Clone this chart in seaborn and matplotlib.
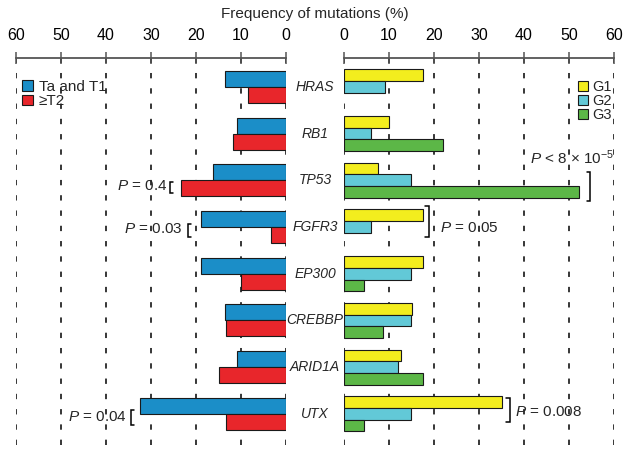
import matplotlib
matplotlib.use("Agg")
import matplotlib.pyplot as plt
import matplotlib.transforms as mtransforms
from matplotlib.patches import Patch
import seaborn as sns
import pandas as pd

# data (% of tumours with mutation)
genes = ["HRAS", "RB1", "TP53", "FGFR3", "EP300", "CREBBP", "ARID1A", "UTX"]

stage_labels = ["Ta and T1", "\u2265T2"]
ta_t1 = [13.5, 10.8, 16.3, 19.0, 19.0, 13.5, 10.8, 32.4]
t2_up = [8.4, 11.7, 23.4, 3.4, 10.1, 13.3, 15.0, 13.3]

grade_labels = ["G1", "G2", "G3"]
g1 = [17.6, 10.1, 7.6, 17.6, 17.6, 15.1, 12.6, 35.1]
g2 = [9.0, 5.9, 14.8, 5.9, 14.8, 14.8, 11.9, 14.8]
g3 = [0.0, 21.9, 52.3, 0.0, 4.4, 8.7, 17.5, 4.4]

xticks = [0, 10, 20, 30, 40, 50, 60]

stage_colors = ["#1b8ec8", "#e8262b"]
grade_colors = ["#f3ed1e", "#62c9d7", "#5cb747"]
edge = "#1a1a1a"

left_df = pd.DataFrame({
    "gene": genes * 2,
    "freq": ta_t1 + t2_up,
    "group": [s for s in stage_labels for _ in genes],
})
right_df = pd.DataFrame({
    "gene": genes * 3,
    "freq": g1 + g2 + g3,
    "group": [g for g in grade_labels for _ in genes],
})

sns.set_theme(style="white")
plt.rcParams["font.family"] = ["Liberation Sans", "DejaVu Sans"]
plt.rcParams["mathtext.fontset"] = "custom"
plt.rcParams["mathtext.it"] = "Liberation Sans:italic"
plt.rcParams["mathtext.rm"] = "Liberation Sans"

fig = plt.figure(figsize=(6.29, 4.51), dpi=100)
W, H = 629, 451
ax_bottom, ax_h = 1 - 445 / H, (445 - 58) / H
axL = fig.add_axes([16 / W, ax_bottom, 270 / W, ax_h])
axR = fig.add_axes([344 / W, ax_bottom, 270 / W, ax_h])

sns.barplot(data=left_df, x="freq", y="gene", hue="group", orient="h",
            palette=stage_colors, saturation=1, width=0.69,
            edgecolor=edge, linewidth=0.8, legend=False, ax=axL)
sns.barplot(data=right_df, x="freq", y="gene", hue="group", orient="h",
            palette=grade_colors, saturation=1, width=0.75,
            edgecolor=edge, linewidth=0.8, legend=False, ax=axR)

for p in axR.patches:
    if p.get_width() == 0:
        p.set_visible(False)

for ax, lim in [(axL, (60, 0)), (axR, (0, 60))]:
    ax.set_xlim(*lim)
    ax.set_ylim(7.67, -0.62)
    ax.set_xlabel("")
    ax.set_ylabel("")
    ax.set_yticks([])
    ax.xaxis.tick_top()
    ax.set_xticks(xticks)
    ax.tick_params(axis="x", direction="inout", length=8, width=1.1,
                   color="#555555", labelcolor="black", labelsize=11.5, pad=6.5)
    for side in ["left", "right", "bottom"]:
        ax.spines[side].set_visible(False)
    ax.spines["top"].set_color("#555555")
    ax.spines["top"].set_linewidth(1.3)
    ax.grid(axis="x", color="black", linestyle=(0, (3.5, 6.5)), linewidth=1.1)
    ax.set_axisbelow(True)

fig.text(315 / W, 1 - 14 / H, "Frequency of mutations (%)",
         ha="center", va="center", fontsize=11)

trans = mtransforms.blended_transform_factory(fig.transFigure, axL.transData)
for i, g in enumerate(genes):
    fig.text(315 / W, i, g, transform=trans, ha="center", va="center",
             style="italic", fontsize=10)

axL.legend(handles=[Patch(facecolor=c, edgecolor=edge, linewidth=0.8, label=l)
                    for c, l in zip(stage_colors, stage_labels)],
           loc="upper left", bbox_to_anchor=(0.022, 0.944), frameon=False,
           fontsize=11, handlelength=0.7, handleheight=0.7,
           handletextpad=0.4, labelspacing=0.05, borderaxespad=0, borderpad=0)
axR.legend(handles=[Patch(facecolor=c, edgecolor=edge, linewidth=0.8, label=l)
                    for c, l in zip(grade_colors, grade_labels)],
           loc="upper right", bbox_to_anchor=(0.993, 0.942), frameon=False,
           fontsize=10.5, handlelength=0.7, handleheight=0.7,
           handletextpad=0.3, labelspacing=0.0, borderaxespad=0, borderpad=0)


def bracket(ax, x, y0, y1, serif):
    ax.plot([x + serif, x, x, x + serif], [y0, y0, y1, y1], color="black",
            linewidth=1.1, clip_on=False, solid_joinstyle="miter")


# left side (stage) p-values
bracket(axL, 25.8, 2.03, 2.27, -0.7)
axL.text(26.3, 2.13, r"$P$ = 0.4", ha="right", va="center", fontsize=11)
bracket(axL, 21.8, 2.93, 3.21, -0.7)
axL.text(23.1, 3.05, r"$P$ = 0.03", ha="right", va="center", fontsize=11)
bracket(axL, 34.5, 6.92, 7.24, -0.7)
axL.text(35.3, 7.06, r"$P$ = 0.04", ha="right", va="center", fontsize=11)

# right side (grade) p-values
bracket(axR, 54.7, 1.82, 2.45, -0.8)
axR.text(41.3, 1.52, r"$P$ < 8 " + "\u00d7" + r" 10$^{\mathregular{-5}}$",
         ha="left", va="center", fontsize=11)
bracket(axR, 18.8, 2.56, 3.21, -0.8)
axR.text(21.3, 3.02, r"$P$ = 0.05", ha="left", va="center", fontsize=11)
bracket(axR, 36.8, 6.66, 7.18, -0.8)
axR.text(38.0, 6.96, r"$P$ = 0.008", ha="left", va="center", fontsize=11)

fig.savefig("out.png", dpi=100)
